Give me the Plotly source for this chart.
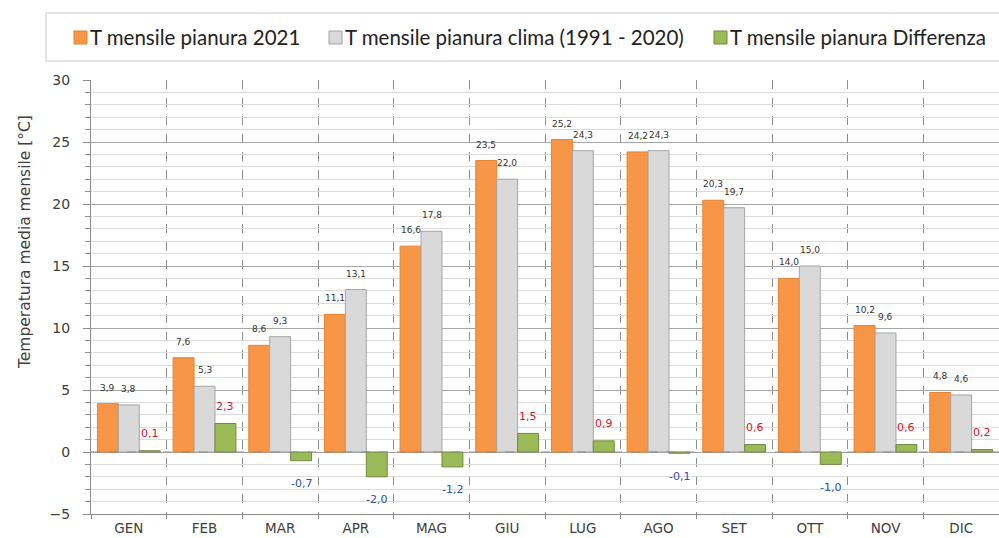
import plotly.graph_objects as go

mesi = ['GEN', 'FEB', 'MAR', 'APR', 'MAG', 'GIU', 'LUG', 'AGO', 'SET', 'OTT', 'NOV', 'DIC']
t_2021 = [3.9, 7.6, 8.6, 11.1, 16.6, 23.5, 25.2, 24.2, 20.3, 14.0, 10.2, 4.8]
t_clima = [3.8, 5.3, 9.3, 13.1, 17.8, 22.0, 24.3, 24.3, 19.7, 15.0, 9.6, 4.6]
t_diff = [0.1, 2.3, -0.7, -2.0, -1.2, 1.5, 0.9, -0.1, 0.6, -1.0, 0.6, 0.2]

nomi = ['T mensile pianura 2021', 'T mensile pianura clima (1991 - 2020)', 'T mensile pianura Differenza']
colori = ['#f79646', '#d9d9d9', '#9bbb59']
bordi = ['#e8822e', '#a5a5a5', '#71893f']

x = list(range(len(mesi)))
bargap = 0.17
w = (1 - bargap) / 3  # larghezza di una barra in unita' dell'asse

# margini / area grafico in pixel
L, R, T, B = 91, 0, 80, 24
W, H = 999, 538
pw, ph = W - L - R, H - T - B


def fmt(v):
    return f'{v:.1f}'.replace('.', ',')


def px(xp):  # pixel orizzontale -> coordinata paper
    return (xp - L) / pw


def py(yp):  # pixel verticale -> coordinata paper
    return (H - B - yp) / ph


fig = go.Figure()
for serie, nome, c, b in zip([t_2021, t_clima, t_diff], nomi, colori, bordi):
    fig.add_trace(go.Bar(x=x, y=serie, name=nome, showlegend=False,
                         marker=dict(color=c, line=dict(color=b, width=1))))

ann = []
for i in x:
    ann.append(dict(x=i - w, y=t_2021[i], text=fmt(t_2021[i]), showarrow=False, yshift=16,
                    font=dict(size=9, color='#333333')))
    ann.append(dict(x=i, y=t_clima[i], text=fmt(t_clima[i]), showarrow=False, yshift=16,
                    font=dict(size=9, color='#333333')))
    d = t_diff[i]
    ann.append(dict(x=i + w, y=d, text=fmt(d), showarrow=False,
                    yshift=17 if d > 0 else -23,
                    font=dict(size=11, color='#e0141e' if d > 0 else '#2f4fa8')))

# titolo asse y
ann.append(dict(text='Temperatura media mensile [°C]', textangle=-90, showarrow=False,
                xref='paper', yref='paper', x=px(14), y=py(242),
                font=dict(size=15.5, color='#404040')))

shapes = [
    dict(type='rect', xref='paper', yref='paper', x0=px(46), x1=px(1005), y0=py(61), y1=py(13),
         line=dict(color='#d9d9d9', width=1.5), fillcolor='rgba(0,0,0,0)'),
    dict(type='line', xref='paper', x0=0, x1=1, yref='y', y0=0, y1=0,
         line=dict(color='#8c8c8c', width=1, dash='dash'), layer='above'),
]

# legenda (riquadro in alto)
leg_x = [73, 328, 713]
for nome, c, b, xl in zip(nomi, colori, bordi, leg_x):
    shapes.append(dict(type='rect', xref='paper', yref='paper',
                       x0=px(xl + 1), x1=px(xl + 14), y0=py(44), y1=py(31),
                       fillcolor=c, line=dict(color=b, width=1)))
    ann.append(dict(text=nome, showarrow=False,
                    xref='paper', yref='paper', x=px(xl + 15), y=py(37),
                    xanchor='left', yanchor='middle',
                    font=dict(family='Lato', size=20.5, color='#222222')))

fig.update_layout(
    width=W, height=H,
    margin=dict(l=L, r=R, t=T, b=B),
    paper_bgcolor='white', plot_bgcolor='white',
    barmode='group', bargap=bargap, bargroupgap=0,
    font=dict(family='DejaVu Sans', color='#404040'),
    annotations=ann,
    shapes=shapes,
    showlegend=False,
)

fig.update_xaxes(
    range=[-0.5, 11.5], tickmode='array', tickvals=x, ticktext=mesi,
    showgrid=False, zeroline=False, automargin=False,
    showline=True, linecolor='#8c8c8c', linewidth=1,
    tickfont=dict(size=13.5, color='#404040'), ticks='', ticklabelstandoff=2,
    minor=dict(tick0=0.5, dtick=1, showgrid=True, griddash='dash',
               gridcolor='#8c8c8c', gridwidth=1, ticks='outside', ticklen=4, tickcolor='#8c8c8c'),
)
fig.update_yaxes(
    range=[-5, 30], dtick=5, tick0=0, automargin=False,
    showgrid=True, gridcolor='#a6a6a6', gridwidth=1, zeroline=False,
    showline=True, linecolor='#8c8c8c', linewidth=1,
    ticks='outside', ticklen=7, tickcolor='#8c8c8c', ticklabelstandoff=10,
    tickfont=dict(size=14, color='#404040'),
    minor=dict(dtick=1, showgrid=True, gridcolor='#dcdcdc', gridwidth=1,
               ticks='outside', ticklen=5, tickcolor='#8c8c8c'),
)

# la pagina ha un margine di 8px sul body: lo azzero
fig.write_html('out.html', config={'displayModeBar': False},
               post_script="document.body.style.margin='0';")
